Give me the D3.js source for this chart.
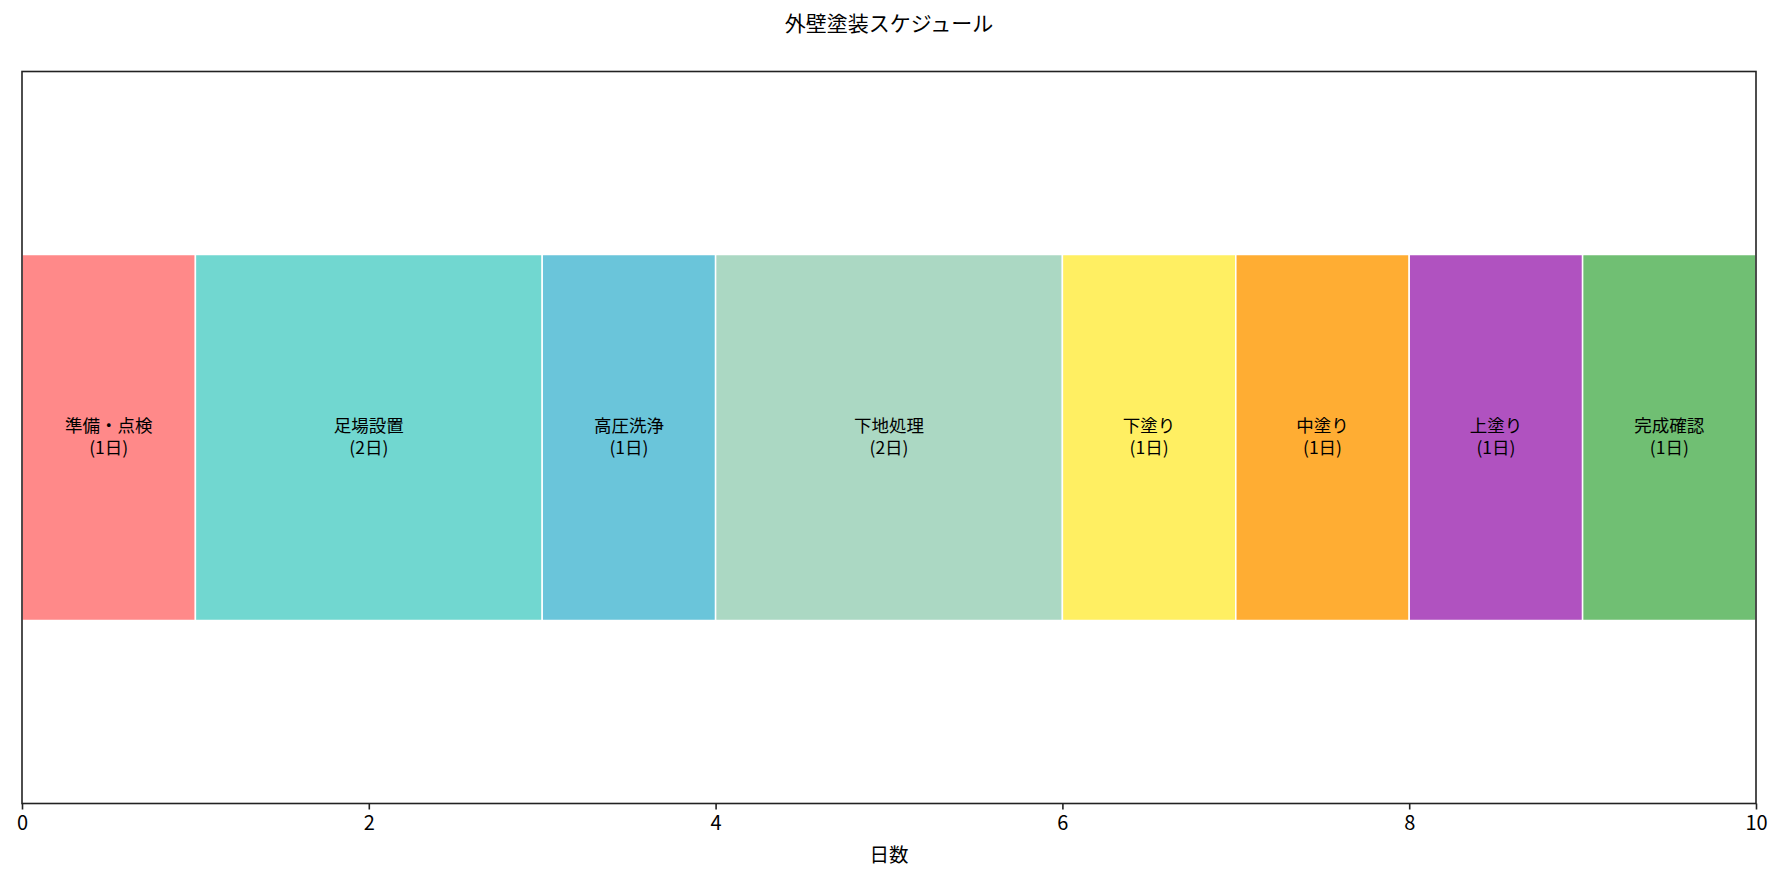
<!DOCTYPE html>
<html>
<head>
<meta charset="utf-8">
<script src="https://cdn.jsdelivr.net/npm/d3@7"></script>
<style>
  body { margin: 0; background: #fff; }
  svg { display: block; font-family: "Noto Sans CJK JP", "Noto Sans", sans-serif; }
</style>
</head>
<body>
<svg id="chart" width="1784" height="882"></svg>
<script>
// 工程データ
const tasks = ['準備・点検', '足場設置', '高圧洗浄', '下地処理', '下塗り', '中塗り', '上塗り', '完成確認'];
const durations = [1, 2, 1, 2, 1, 1, 1, 1];
const colors = ['#FF6B6B', '#4ECDC4', '#45B7D1', '#96CEB4', '#FFEB3B', '#FF9800', '#9C27B0', '#4CAF50'];
const xTicks = [0, 2, 4, 6, 8, 10];

const svg = d3.select('#chart');
const width = 1784;
const height = 882;
const margin = { top: 71.5, right: 28, bottom: 78.5, left: 22 };

// 開始日を累積で計算
let acc = 0;
const rows = tasks.map((t, i) => {
	const r = { task: t, start: acc, dur: durations[i], color: colors[i] };
	acc += durations[i];
	return r;
});

const x = d3
	.scaleLinear()
	.domain([0, 10])
	.range([margin.left, width - margin.right]);

const y = d3
	.scaleLinear()
	.domain([-0.5, 0.5])
	.range([height - margin.bottom, margin.top]);

const barH = 0.25;

// バー
svg
	.append('g')
	.selectAll('rect')
	.data(rows)
	.enter()
	.append('rect')
	.attr('x', d => x(d.start))
	.attr('y', y(barH))
	.attr('width', d => x(d.start + d.dur) - x(d.start))
	.attr('height', y(-barH) - y(barH))
	.attr('fill', d => d.color)
	.attr('fill-opacity', 0.8)
	.attr('stroke', '#fff')
	.attr('stroke-width', 1.5);

// ラベル
const labels = svg
	.append('g')
	.selectAll('text')
	.data(rows)
	.enter()
	.append('text')
	.attr('text-anchor', 'middle')
	.attr('font-size', 17.5)
	.attr('fill', '#000')
	.attr('x', d => x(d.start + d.dur / 2))
	.attr('y', y(0));

labels
	.append('tspan')
	.attr('x', d => x(d.start + d.dur / 2))
	.attr('dy', -6)
	.text(d => d.task);

labels
	.append('tspan')
	.attr('x', d => x(d.start + d.dur / 2))
	.attr('dy', 22)
	.text(d => `(${d.dur}日)`);

// 枠線
svg
	.append('rect')
	.attr('x', margin.left)
	.attr('y', margin.top)
	.attr('width', width - margin.left - margin.right)
	.attr('height', height - margin.top - margin.bottom)
	.attr('fill', 'none')
	.attr('stroke', '#222')
	.attr('stroke-width', 1.6);

// X軸
const xAxis = d3
	.axisBottom(x)
	.tickValues(xTicks)
	.tickSize(6)
	.tickPadding(6)
	.tickFormat(d3.format('d'));

const gx = svg
	.append('g')
	.attr('transform', `translate(0, ${height - margin.bottom})`)
	.call(xAxis);
gx.select('.domain').remove();
gx.selectAll('.tick line').attr('stroke', '#222').attr('stroke-width', 1.6);
gx
	.selectAll('.tick text')
	.attr('font-size', 20)
	.attr('fill', '#000')
	.attr('font-family', '"Noto Sans CJK JP", sans-serif');

// タイトル・軸ラベル
svg
	.append('text')
	.attr('x', (margin.left + width - margin.right) / 2)
	.attr('y', 30.5)
	.attr('text-anchor', 'middle')
	.attr('font-size', 21)
	.text('外壁塗装スケジュール');

svg
	.append('text')
	.attr('x', (margin.left + width - margin.right) / 2)
	.attr('y', 862)
	.attr('text-anchor', 'middle')
	.attr('font-size', 19.5)
	.text('日数');
</script>
</body>
</html>
